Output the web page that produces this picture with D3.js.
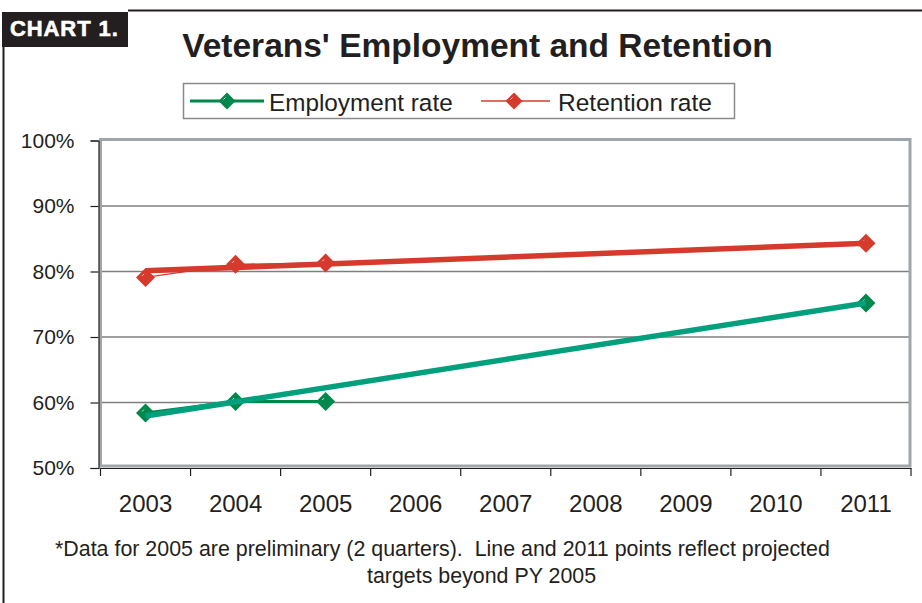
<!DOCTYPE html>
<html>
<head>
<meta charset="utf-8">
<script src="https://cdn.jsdelivr.net/npm/d3@7"></script>
<style>
  html, body { margin: 0; padding: 0; background: #fff; }
  svg { display: block; }
  text { font-family: "Liberation Sans", Arial, Helvetica, sans-serif; fill: #231f20; }
</style>
</head>
<body>
<svg id="chart" width="922" height="603"></svg>
<script>
// ---- data ----
const years = ["2003", "2004", "2005", "2006", "2007", "2008", "2009", "2010", "2011"];
const yTicks = [50, 60, 70, 80, 90, 100];
const employmentYears = ["2003", "2004", "2005", "2011"];
const employmentRate = [58.4, 60.15, 60.15, 75.2];      // markers; line joins first three
const retentionYears = ["2003", "2004", "2005", "2011"];
const retentionRate = [79.1, 81.1, 81.3, 84.3];
const projYears = ["2003", "2011"];
const employmentProjected = [57.95, 75.2];
const retentionProjected = [80.1, 84.3];
const seriesNames = ["Employment rate", "Retention rate"];

const svg = d3.select("#chart");
const W = 922, H = 603;
const plot = { left: 100.5, right: 911, top: 140.5, bottom: 468 };

const x = d3.scaleBand().domain(years).range([plot.left, plot.right]).padding(0);
const xc = d => x(d) + x.bandwidth() / 2;
const y = d3.scaleLinear().domain([50, 100]).range([plot.bottom, plot.top]);

const red = "#d63a2d", green = "#00874b", teal = "#00a07c";

// outer frame
svg.append("line").attr("x1", 3.5).attr("x2", 3.5).attr("y1", 46).attr("y2", H)
  .attr("stroke", "#231f20").attr("stroke-width", 2);
svg.append("line").attr("x1", 128).attr("x2", W).attr("y1", 10.5).attr("y2", 10.5)
  .attr("stroke", "#231f20").attr("stroke-width", 2);

// CHART 1. box
svg.append("rect").attr("x", 2).attr("y", 12).attr("width", 126).attr("height", 35).attr("fill", "#231f20");
svg.append("text").attr("x", 10).attr("y", 36).attr("font-size", 22).attr("font-weight", 900)
  .attr("letter-spacing", 0.9).style("fill", "#fff").style("stroke", "#fff").style("stroke-width", 0.6)
  .text("CHART 1.");

// title
svg.append("text").attr("x", 477.5).attr("y", 57).attr("text-anchor", "middle")
  .attr("font-size", 33.5).attr("font-weight", "bold").text("Veterans' Employment and Retention");

// legend
const lg = svg.append("g");
lg.append("rect").attr("x", 183.5).attr("y", 83.5).attr("width", 551).attr("height", 35)
  .attr("fill", "#fff").attr("stroke", "#8a8a8a").attr("stroke-width", 1.5);

function diamond(g, cx, cy, color, r) {
  g.append("path")
    .attr("d", `M${cx},${cy - r}L${cx + r},${cy}L${cx},${cy + r}L${cx - r},${cy}Z`)
    .attr("fill", color);
  g.append("line").attr("x1", cx - 3.5).attr("y1", cy - 1.5).attr("x2", cx - 1.5).attr("y2", cy - 3.5)
    .attr("stroke", "#fff").attr("stroke-width", 1).attr("opacity", 0.8);
}

lg.append("line").attr("x1", 190).attr("x2", 264).attr("y1", 101).attr("y2", 101)
  .attr("stroke", green).attr("stroke-width", 3);
diamond(lg, 227, 101, green, 8.5);
lg.append("text").attr("x", 269).attr("y", 111).attr("font-size", 24.3).text(seriesNames[0]);
lg.append("line").attr("x1", 481).attr("x2", 550).attr("y1", 101).attr("y2", 101)
  .attr("stroke", red).attr("stroke-width", 1.3);
diamond(lg, 514, 101, red, 8.5);
lg.append("text").attr("x", 558).attr("y", 111).attr("font-size", 24.5).text(seriesNames[1]);

// plot frame and grid
const grid = svg.append("g");
grid.selectAll("line").data(yTicks.filter(d => d > 50 && d < 100)).join("line")
  .attr("x1", plot.left).attr("x2", plot.right)
  .attr("y1", d => y(d)).attr("y2", d => y(d))
  .attr("stroke", "#7f7f7f").attr("stroke-width", 1.5);
svg.append("rect").attr("x", plot.left).attr("y", plot.top - 1)
  .attr("width", plot.right - plot.left - 1).attr("height", plot.bottom - plot.top - 1)
  .attr("fill", "none").attr("stroke", "#a0a5aa").attr("stroke-width", 3);

// y axis
const yAxis = svg.append("g").attr("transform", `translate(${plot.left - 2},0)`)
  .call(d3.axisLeft(y).tickValues(yTicks).tickFormat(d => d + "%").tickSize(8).tickPadding(16));
yAxis.select(".domain").attr("stroke", "#231f20").attr("stroke-width", 1.2);
yAxis.selectAll(".tick line").attr("stroke", "#231f20").attr("stroke-width", 1.2);
yAxis.selectAll(".tick text").attr("font-size", 21).attr("font-family", "Liberation Sans, Arial, sans-serif")
  .style("fill", "#231f20");

// x axis
const xAxis = svg.append("g").attr("transform", `translate(0,${plot.bottom})`)
  .call(d3.axisBottom(x).tickSize(0).tickPadding(27));
xAxis.select(".domain").attr("stroke", "#231f20").attr("stroke-width", 1.2);
xAxis.selectAll(".tick text").attr("font-size", 24).attr("font-family", "Liberation Sans, Arial, sans-serif")
  .style("fill", "#231f20");
const bounds = years.map(d => x(d)).concat([x(years[years.length - 1]) + x.bandwidth()]);
xAxis.selectAll("line.bound").data(bounds).join("line").attr("class", "bound")
  .attr("x1", d => d).attr("x2", d => d).attr("y1", 0).attr("y2", 8)
  .attr("stroke", "#231f20").attr("stroke-width", 1.2);

// series lines (thin, observed)
const line = d3.line().x(d => xc(d[0])).y(d => y(d[1]));
const empObs = employmentYears.slice(0, 3).map((d, i) => [d, employmentRate[i]]);
const retObs = retentionYears.slice(0, 3).map((d, i) => [d, retentionRate[i]]);
svg.append("path").attr("d", line(empObs)).attr("fill", "none").attr("stroke", green).attr("stroke-width", 3);
svg.append("path").attr("d", line(retObs)).attr("fill", "none").attr("stroke", red).attr("stroke-width", 1.3);

// markers
const mk = svg.append("g");
employmentYears.forEach((d, i) => diamond(mk, xc(d), y(employmentRate[i]), green, 9.5));
retentionYears.forEach((d, i) => diamond(mk, xc(d), y(retentionRate[i]), red, 9.5));

// projected lines (thick)
svg.append("path").attr("d", line(projYears.map((d, i) => [d, retentionProjected[i]])))
  .attr("fill", "none").attr("stroke", red).attr("stroke-width", 5.5);
svg.append("path").attr("d", line(projYears.map((d, i) => [d, employmentProjected[i]])))
  .attr("fill", "none").attr("stroke", teal).attr("stroke-width", 5.5);

// footnote
svg.append("text").attr("x", 55).attr("y", 556).attr("font-size", 21.4).attr("xml:space", "preserve")
  .text("*Data for 2005 are preliminary (2 quarters).  Line and 2011 points reflect projected");
svg.append("text").attr("x", 367).attr("y", 583).attr("font-size", 21.4)
  .text("targets beyond PY 2005");
</script>
</body>
</html>
